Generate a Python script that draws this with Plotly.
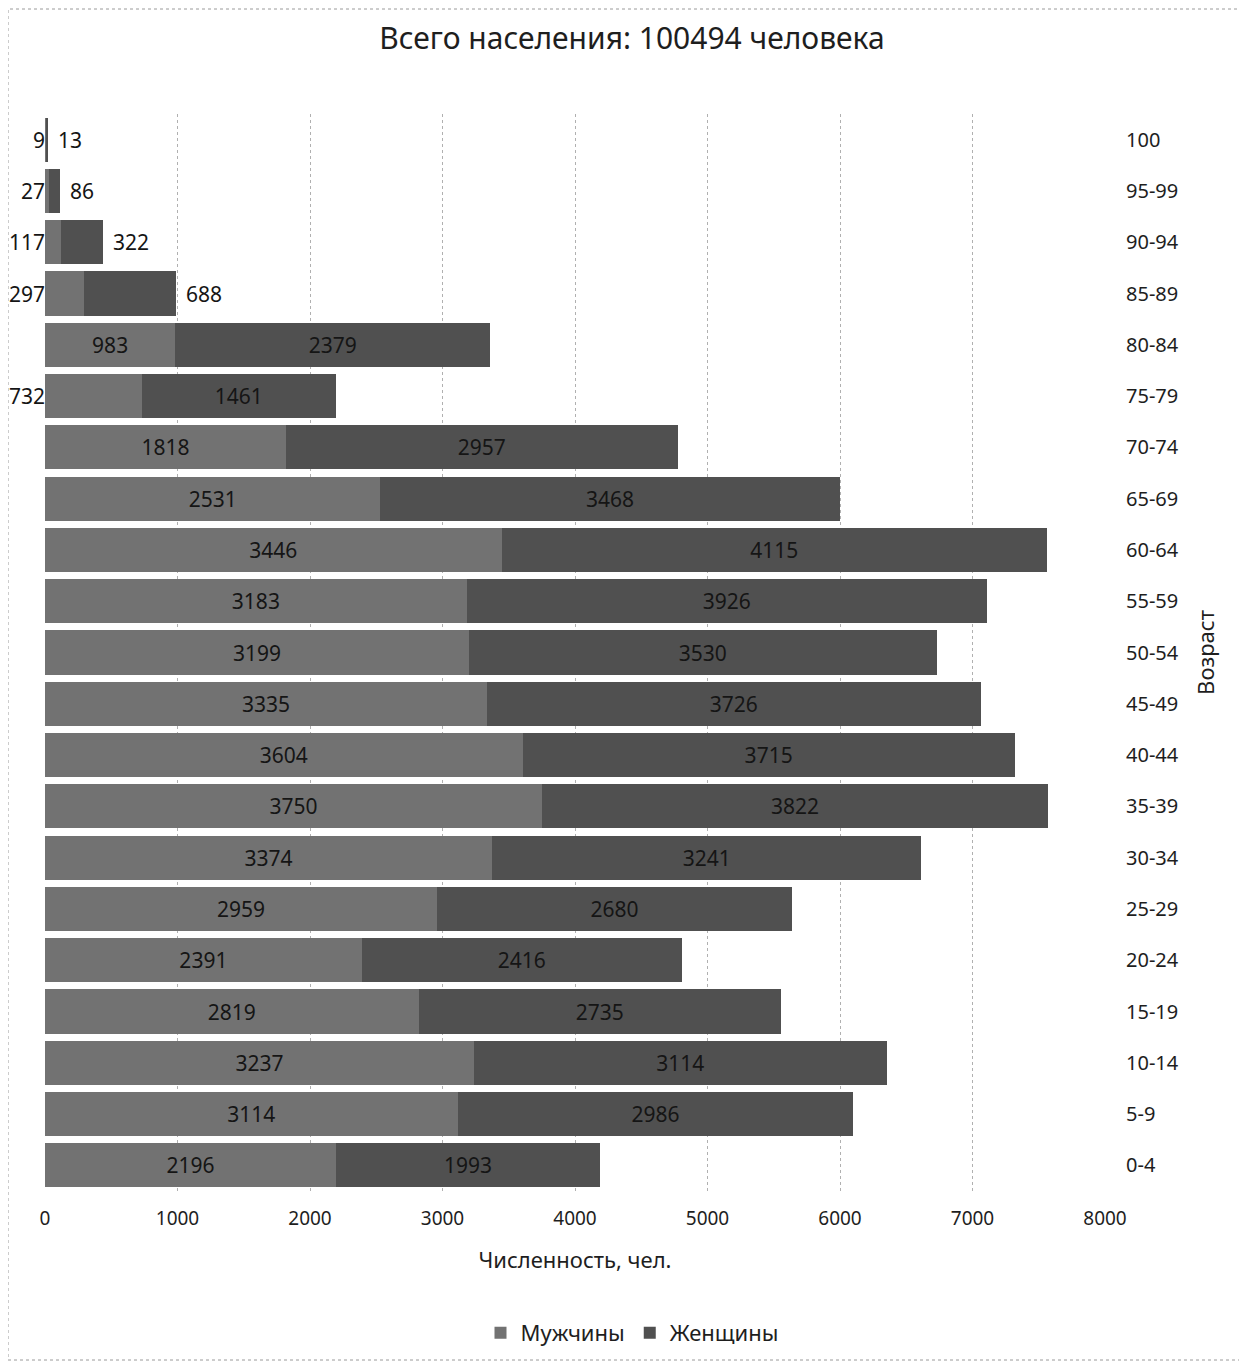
import plotly.graph_objects as go

ages = ["0-4", "5-9", "10-14", "15-19", "20-24", "25-29", "30-34", "35-39", "40-44",
        "45-49", "50-54", "55-59", "60-64", "65-69", "70-74", "75-79", "80-84",
        "85-89", "90-94", "95-99", "100"]
men = [2196, 3114, 3237, 2819, 2391, 2959, 3374, 3750, 3604, 3335, 3199, 3183,
       3446, 2531, 1818, 732, 983, 297, 117, 27, 9]
women = [1993, 2986, 3114, 2735, 2416, 2680, 3241, 3822, 3715, 3726, 3530, 3926,
         4115, 3468, 2957, 1461, 2379, 688, 322, 86, 13]
x_ticks = [0, 1000, 2000, 3000, 4000, 5000, 6000, 7000, 8000]

title_text = "Всего населения: 100494 человека"
FONT = "Noto Sans"
MEN_COLOR = "#727272"
WOMEN_COLOR = "#505050"
LABEL_COLOR = "#151515"
TEXT_COLOR = "#1e1e1e"

men_inside = [v >= 800 for v in men]
women_inside = [v >= 700 for v in women]

fig = go.Figure()
fig.add_trace(go.Bar(
    y=ages, x=men, orientation="h", name="Мужчины",
    marker=dict(color=MEN_COLOR, line=dict(width=0)),
    text=[str(v) if ok else "" for v, ok in zip(men, men_inside)],
    textposition=["inside" if ok else "none" for ok in men_inside],
    insidetextanchor="middle", constraintext="none",
    insidetextfont=dict(family=FONT, size=21, color=LABEL_COLOR),
    hoverinfo="x+y",
))
fig.add_trace(go.Bar(
    y=ages, x=women, orientation="h", name="Женщины",
    marker=dict(color=WOMEN_COLOR, line=dict(width=0)),
    text=[str(v) if ok else "" for v, ok in zip(women, women_inside)],
    textposition=["inside" if ok else "none" for ok in women_inside],
    insidetextanchor="middle", constraintext="none",
    insidetextfont=dict(family=FONT, size=21, color=LABEL_COLOR),
    hoverinfo="x+y",
))

annotations = []
for i, (m, w, mi, wi) in enumerate(zip(men, women, men_inside, women_inside)):
    if not mi:
        annotations.append(dict(x=0, y=i, xref="x", yref="y", text=str(m),
                                showarrow=False, xanchor="right", xshift=2,
                                font=dict(family=FONT, size=21, color=LABEL_COLOR)))
    if not wi:
        annotations.append(dict(x=m + w, y=i, xref="x", yref="y", text=str(w),
                                showarrow=False, xanchor="left", xshift=8,
                                font=dict(family=FONT, size=21, color=LABEL_COLOR)))

L, R, T, B = 37, 150, 106, 181
H = 1364
plot_h = H - T - B

fig.update_layout(
    width=1247, height=H, autosize=False,
    barmode="stack", bargap=0.14,
    plot_bgcolor="white", paper_bgcolor="white",
    margin=dict(l=L, r=R, t=T, b=B, autoexpand=False),
    font=dict(family=FONT, size=19, color=TEXT_COLOR),
    title=dict(text=title_text, x=(624) / 1247, xanchor="center",
               y=1 - 30 / H, yanchor="middle", yref="container",
               font=dict(family=FONT, size=30, color=TEXT_COLOR)),
    xaxis=dict(range=[0, 8000], tickvals=x_ticks, showgrid=True,
               gridcolor="#b0b0b0", griddash="dot", gridwidth=1,
               zeroline=False, showline=False, ticks="", tickangle=0,
               ticklabelstandoff=14,
               tickfont=dict(family=FONT, size=19, color=TEXT_COLOR),
               title=dict(text="Численность, чел.", standoff=22,
                          font=dict(family=FONT, size=22, color=TEXT_COLOR))),
    yaxis=dict(type="category", side="right", categoryorder="array", categoryarray=ages,
               range=[-0.5, len(ages) - 0.5], showgrid=False, zeroline=False,
               showline=False, ticks="", ticklabelstandoff=20,
               tickfont=dict(family=FONT, size=20, color=TEXT_COLOR),
               title=dict(text="Возраст", standoff=20,
                          font=dict(family=FONT, size=22, color=TEXT_COLOR))),
    legend=dict(orientation="h", x=(624 - L) / 1060, xanchor="center",
                y=(1183 - 1325) / plot_h, yanchor="middle", traceorder="normal",
                font=dict(family=FONT, size=22, color=TEXT_COLOR)),
    annotations=annotations,
    showlegend=True,
)

fig.add_shape(type="rect", xref="paper", yref="paper",
              x0=(0 - L) / 1060, x1=(1232 - L) / 1060,
              y0=(1183 - 1352) / plot_h, y1=(1183 - 1) / plot_h,
              line=dict(color="#9a9a9a", width=1, dash="dot"), layer="below")

fig.write_html("out.html")
